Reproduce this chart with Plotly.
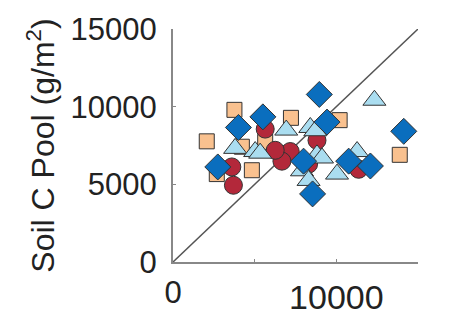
import plotly.graph_objects as go

# Data (g/m^2)
sq_x = [3761, 2067, 7221, 10202, 13883, 4828, 5644, 4215, 2681]
sq_y = [9795, 7768, 9281, 9132, 6900, 5908, 7731, 7421, 5660]

ci_x = [3699, 3601, 5644, 6767, 7178, 6669, 8816, 11368, 6258, 8300]
ci_y = [4941, 6119, 8556, 6900, 7111, 6491, 7830, 5970, 7192, 6300]

tr_x = [12331, 6933, 8405, 8712, 3804, 5031, 5337, 8816, 9123, 7896, 8301, 10043, 11270]
tr_y = [10415, 8493, 8661, 8450, 7316, 7111, 7006, 6900, 6696, 5871, 5251, 5660, 7111]

di_x = [8957, 5503, 4006, 9429, 14129, 2742, 7994, 10755, 12086, 8546]
di_y = [10787, 9343, 8661, 9008, 8413, 6119, 6491, 6491, 6181, 4383]

line_x = [0, 15000]
line_y = [0, 15000]

xtick0 = [0]
xtick1 = [10000]
xminor = [5000, 10000]
ytickvals = [0, 5000, 10000, 15000]

FONT = "Liberation Sans, Arial, sans-serif"
OUT = dict(color="#333333", width=1)

fig = go.Figure()
fig.add_trace(go.Scatter(x=line_x, y=line_y, mode="lines",
                         line=dict(color="#555555", width=1.5), showlegend=False))
fig.add_trace(go.Scatter(x=sq_x, y=sq_y, mode="markers", showlegend=False,
                         marker=dict(symbol="square", size=15, color="#F9C18F", line=OUT)))
fig.add_trace(go.Scatter(x=ci_x, y=ci_y, mode="markers", showlegend=False,
                         marker=dict(symbol="circle", size=18, color="#B3283A", line=OUT)))
fig.add_trace(go.Scatter(x=tr_x, y=tr_y, mode="markers", showlegend=False,
                         marker=dict(symbol="triangle-up", size=20, color="#AADDF0", line=OUT)))
fig.add_trace(go.Scatter(x=di_x, y=di_y, mode="markers", showlegend=False,
                         marker=dict(symbol="diamond", size=20, color="#0A6EBE", line=OUT)))
# trace on the overlay axis so that it is drawn
fig.add_trace(go.Scatter(x=xtick1, y=[0], xaxis="x2", mode="markers",
                         marker=dict(size=1, opacity=0), showlegend=False, hoverinfo="skip"))

fig.update_layout(
    width=457, height=328,
    margin=dict(l=173, r=39, t=26, b=60),
    plot_bgcolor="white", paper_bgcolor="white",
    font=dict(family=FONT, color="#222222"),
    xaxis=dict(range=[0, 15000], showgrid=False, zeroline=False,
               showline=True, linecolor="#888888", linewidth=2,
               ticks="inside", ticklen=3, tickcolor="#888888",
               tickvals=xtick0, ticktext=["0"],
               minor=dict(tickvals=xminor, ticks="inside", ticklen=3,
                          tickcolor="#888888", showgrid=False),
               tickfont=dict(size=31, family=FONT), ticklabelstandoff=2),
    xaxis2=dict(range=[0, 15000], overlaying="x", side="bottom", showgrid=False,
                zeroline=False, showline=False, ticks="",
                tickvals=xtick1, ticktext=["10000"],
                tickfont=dict(size=34, family=FONT), ticklabelstandoff=12),
    yaxis=dict(range=[0, 15000], showgrid=False, zeroline=False,
               showline=True, linecolor="#888888", linewidth=2,
               ticks="inside", ticklen=3, tickcolor="#888888",
               tickvals=ytickvals, ticktext=[str(v) for v in ytickvals],
               tickfont=dict(size=31, family=FONT), ticklabelstandoff=8,
               title=dict(text="Soil C Pool (g/m<sup>2</sup>)",
                          font=dict(size=32, family=FONT), standoff=6)),
)
fig.write_html("out.html")
